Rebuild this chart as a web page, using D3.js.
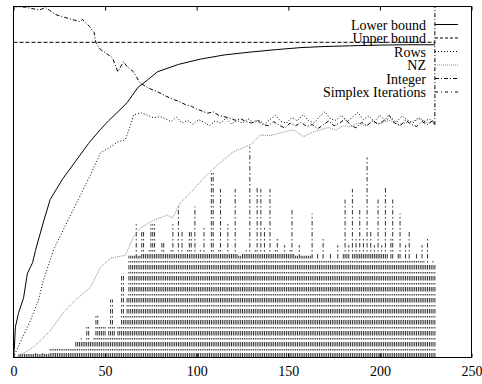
<!DOCTYPE html>
<html>
<head>
<meta charset="utf-8">
<script src="https://cdn.jsdelivr.net/npm/d3@7/dist/d3.min.js"></script>
<style>
  body { margin: 0; background: #fff; }
  text { font-family: "Liberation Serif", "Times New Roman", serif; font-size: 14px; fill: #000; }
</style>
</head>
<body>
<script>
// tick labels on the x axis
var xTicks = [0, 50, 100, 150, 200, 250];

// legend entries, top to bottom
var seriesNames = ['Lower bound', 'Upper bound', 'Rows', 'NZ', 'Integer', 'Simplex Iterations'];

// lower bound (solid)
var lowerX = [0, 0.5, 1, 2.7, 5.5, 7.6, 10.4, 12, 16, 20, 27, 34, 41, 47.5, 52, 57, 62, 68, 73, 78.6, 90, 102, 115, 129, 143, 157, 170, 184, 200, 215, 230];
var lowerY = [0, 0.03, 0.086, 0.126, 0.17, 0.24, 0.27, 0.305, 0.38, 0.45, 0.51, 0.56, 0.61, 0.65, 0.675, 0.70, 0.726, 0.77, 0.79, 0.814, 0.835, 0.85, 0.862, 0.87, 0.877, 0.883, 0.886, 0.888, 0.89, 0.891, 0.891];

// upper bound (dashed)
var upperX = [0, 230];
var upperY = [0.898, 0.898];

// rows (dotted)
var rowsX = [0, 1.1, 4.9, 9.3, 13.6, 15.8, 21.8, 28.4, 36.6, 42, 47.5, 53, 56.8, 61, 64, 65.5, 69.3, 73, 76.4, 80,
  83, 86, 89, 92, 95, 98, 101, 104, 107, 110, 113, 116, 119, 122, 125, 128, 131, 134, 137, 140,
  143, 146, 149, 152, 155, 158, 161, 164, 167, 170, 173, 176, 179, 182, 185, 188, 191, 194, 197, 200,
  203, 206, 209, 212, 215, 218, 221, 224, 227, 230];
var rowsY = [0, 0.014, 0.057, 0.106, 0.163, 0.211, 0.306, 0.377, 0.463, 0.52, 0.583, 0.6, 0.614, 0.62, 0.663, 0.691, 0.697, 0.691, 0.683, 0.686,
  0.680, 0.672, 0.685, 0.668, 0.676, 0.664, 0.678, 0.670, 0.660, 0.674, 0.668, 0.682, 0.665, 0.675, 0.668, 0.680, 0.670, 0.676, 0.664, 0.678,
  0.690, 0.672, 0.668, 0.684, 0.674, 0.692, 0.675, 0.668, 0.686, 0.700, 0.680, 0.676, 0.690, 0.672, 0.685, 0.698, 0.678, 0.688, 0.672, 0.690,
  0.676, 0.684, 0.670, 0.688, 0.676, 0.668, 0.684, 0.672, 0.680, 0.663];

// non-zeros (light dotted)
var nzX = [0, 2.2, 10.9, 20.2, 27.3, 34.9, 42, 47.5, 53, 61, 65.5, 69.3, 76.4, 84, 86.8, 91, 98, 103.7, 111.4, 120,
  129.4, 134.8, 140, 145.7, 152.8, 158.3, 163.8, 167.6, 172, 176, 180, 184, 188, 192, 196, 200, 205, 210, 216.7, 222, 226, 230];
var nzY = [0, 0.003, 0.029, 0.077, 0.129, 0.169, 0.2, 0.257, 0.283, 0.291, 0.343, 0.369, 0.391, 0.406, 0.397, 0.44, 0.477, 0.511, 0.549, 0.586,
  0.606, 0.634, 0.632, 0.64, 0.649, 0.629, 0.643, 0.649, 0.655, 0.648, 0.66, 0.657, 0.668, 0.66, 0.672, 0.666, 0.676, 0.664, 0.671, 0.68, 0.668, 0.671];

// integer count per iteration (drawn as dash-dot columns)
var integerVals = [
  0, 0, 0, 0.01, 0.01, 0.01, 0.01, 0.01, 0.01, 0.01,
  0.01, 0.01, 0.015, 0.01, 0.01, 0.01, 0.015, 0.01, 0.01, 0.01,
  0.025, 0.025, 0.03, 0.025, 0.025, 0.025, 0.03, 0.025, 0.025, 0.025,
  0.025, 0.03, 0.03, 0.025, 0.05, 0.05, 0.05, 0.055, 0.05, 0.05,
  0.09, 0.09, 0.05, 0.05, 0.06, 0.12, 0.12, 0.09, 0.09, 0.09,
  0.09, 0.06, 0.09, 0.165, 0.165, 0.09, 0.06, 0.09, 0.09, 0.24,
  0.24, 0.12, 0.17, 0.29, 0.29, 0.29, 0.29, 0.38, 0.29, 0.29,
  0.36, 0.36, 0.30, 0.30, 0.31, 0.38, 0.38, 0.38, 0.30, 0.30,
  0.30, 0.33, 0.33, 0.30, 0.30, 0.30, 0.31, 0.38, 0.30, 0.30,
  0.43, 0.30, 0.36, 0.30, 0.30, 0.31, 0.36, 0.36, 0.30, 0.43,
  0.30, 0.30, 0.31, 0.30, 0.37, 0.30, 0.30, 0.30, 0.53, 0.53,
  0.30, 0.30, 0.31, 0.48, 0.30, 0.30, 0.30, 0.38, 0.30, 0.30,
  0.30, 0.48, 0.30, 0.29, 0.29, 0.30, 0.30, 0.31, 0.30, 0.60,
  0.30, 0.30, 0.31, 0.49, 0.30, 0.48, 0.30, 0.37, 0.30, 0.30,
  0.48, 0.30, 0.30, 0.31, 0.34, 0.30, 0.30, 0.30, 0.32, 0.30,
  0.30, 0.31, 0.42, 0.30, 0.29, 0.29, 0.32, 0.29, 0.29, 0.29,
  0.29, 0.29, 0.29, 0.41, 0.28, 0.28, 0.30, 0.28, 0.28, 0.34,
  0.28, 0.28, 0.28, 0.30, 0.28, 0.28, 0.28, 0.32, 0.28, 0.28,
  0.30, 0.45, 0.30, 0.32, 0.28, 0.48, 0.30, 0.34, 0.30, 0.42,
  0.30, 0.34, 0.30, 0.57, 0.30, 0.36, 0.30, 0.32, 0.30, 0.45,
  0.30, 0.32, 0.30, 0.49, 0.30, 0.28, 0.34, 0.45, 0.28, 0.28,
  0.30, 0.41, 0.28, 0.28, 0.32, 0.28, 0.36, 0.28, 0.28, 0.28,
  0.30, 0.28, 0.28, 0.32, 0.28, 0.27, 0.34, 0.27, 0.27, 0.28,
  0.27
];

// simplex iterations (dash-dot)
var simplexX = [0, 6.5, 14, 17.5, 23, 28, 36, 37.7, 41.5, 44, 45, 47.5, 50, 54, 57, 60, 62, 65.5, 69, 73, 78.6,
  82, 85, 88, 91, 94, 97, 100, 103, 106, 109, 112, 115, 118, 121, 124, 127, 130, 133, 136, 139,
  142, 145, 148, 151, 154, 157, 160, 163, 166, 169, 172, 175, 178, 181, 184, 187, 190, 193, 196, 199,
  202, 205, 208, 211, 214, 217, 220, 223, 226, 229, 230, 230];
var simplexY = [1.0, 0.998, 0.99, 0.997, 0.977, 0.969, 0.957, 0.963, 0.943, 0.926, 0.897, 0.877, 0.869, 0.854, 0.814, 0.843, 0.829, 0.814, 0.783, 0.769, 0.757,
  0.748, 0.740, 0.734, 0.728, 0.720, 0.716, 0.708, 0.702, 0.696, 0.700, 0.690, 0.686, 0.682, 0.676, 0.680, 0.672, 0.668, 0.676, 0.664, 0.660,
  0.672, 0.662, 0.654, 0.668, 0.660, 0.670, 0.658, 0.664, 0.652, 0.662, 0.674, 0.660, 0.668, 0.680, 0.662, 0.654, 0.670, 0.660, 0.676, 0.664,
  0.674, 0.690, 0.668, 0.660, 0.676, 0.664, 0.658, 0.672, 0.664, 0.676, 0.663, 1.0];

var width = 482;
var height = 384;

// plot box
var box = {left: 13.5, right: 471.5, top: 6.5, bottom: 357.5};

var svg = d3
  .select('body')
  .append('svg')
  .attr('width', width)
  .attr('height', height);

var xScale = d3.scaleLinear().domain([0, 250]).range([box.left, box.right]);
var yScale = d3.scaleLinear().domain([0, 1]).range([box.bottom, box.top]);

// helper to zip x and y arrays
function zip(xs, ys) {
  return xs.map(function(x, i) {
    return [x, ys[i]];
  });
}

var line = d3
  .line()
  .x(function(d) { return xScale(d[0]); })
  .y(function(d) { return yScale(d[1]); });

// integer columns, dashes start from the bottom
svg
  .append('g')
  .selectAll('path')
  .data(integerVals)
  .enter()
  .append('path')
  .attr('d', function(v, i) {
    return line([[i, 0], [i, v]]);
  })
  .attr('fill', 'none')
  .attr('stroke', '#333')
  .attr('stroke-width', 1)
  .attr('stroke-dasharray', '4.5,2.5,1.5,2.5');

// line series
var series = [
  {pts: zip(nzX, nzY), color: '#8a8a8a', dash: '1,1'},
  {pts: zip(rowsX, rowsY), color: '#000', dash: '1,2'},
  {pts: zip(simplexX, simplexY), color: '#000', dash: '4,2,1,2'},
  {pts: zip(upperX, upperY), color: '#000', dash: '4,2'},
  {pts: zip(lowerX, lowerY), color: '#000', dash: null}
];

svg
  .append('g')
  .selectAll('path')
  .data(series)
  .enter()
  .append('path')
  .attr('d', function(d) { return line(d.pts); })
  .attr('fill', 'none')
  .attr('stroke', function(d) { return d.color; })
  .attr('stroke-width', 1)
  .attr('stroke-dasharray', function(d) { return d.dash; });

// frame
svg
  .append('rect')
  .attr('x', box.left)
  .attr('y', box.top)
  .attr('width', box.right - box.left)
  .attr('height', box.bottom - box.top)
  .attr('fill', 'none')
  .attr('stroke', '#000')
  .attr('stroke-width', 1);

// ticks on top and bottom, pointing inward
var bottomAxis = d3.axisBottom(xScale).tickValues(xTicks).tickSizeInner(-4).tickSizeOuter(0).tickPadding(14);
var gx = svg.append('g').attr('transform', 'translate(0,' + box.bottom + ')').call(bottomAxis);
gx.select('.domain').remove();
gx.selectAll('text').attr('font-family', '"Liberation Serif", serif').attr('font-size', 14).attr('dy', '0.35em');

var topAxis = d3.axisTop(xScale).tickValues(xTicks).tickSizeInner(-4).tickSizeOuter(0).tickFormat('');
var gt = svg.append('g').attr('transform', 'translate(0,' + box.top + ')').call(topAxis);
gt.select('.domain').remove();

// legend
var legendStyles = [
  {color: '#000', dash: null},
  {color: '#000', dash: '3,2'},
  {color: '#000', dash: '1,2'},
  {color: '#8a8a8a', dash: '1,1'},
  {color: '#000', dash: '4,2,1,2'},
  {color: '#000', dash: '3,3,1,3'}
];

var legend = svg
  .append('g')
  .selectAll('g')
  .data(seriesNames)
  .enter()
  .append('g')
  .attr('transform', function(d, i) {
    return 'translate(0,' + (29.5 + i * 13.5) + ')';
  });

legend
  .append('text')
  .attr('x', 426)
  .attr('text-anchor', 'end')
  .text(function(d) { return d; });

legend
  .append('line')
  .attr('x1', 435)
  .attr('x2', 458)
  .attr('y1', -5)
  .attr('y2', -5)
  .attr('stroke', function(d, i) { return legendStyles[i].color; })
  .attr('stroke-dasharray', function(d, i) { return legendStyles[i].dash; });
</script>
</body>
</html>
